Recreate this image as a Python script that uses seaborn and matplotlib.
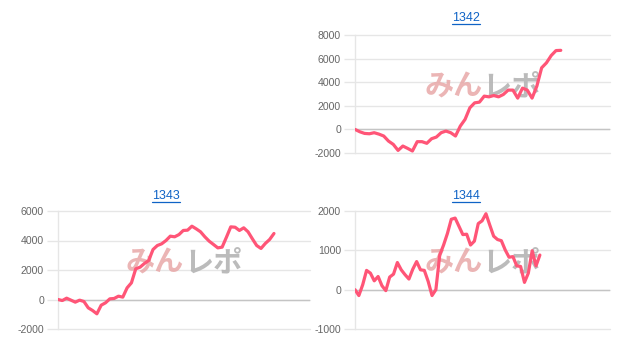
import matplotlib
matplotlib.use("Agg")
import matplotlib.pyplot as plt
from matplotlib.lines import Line2D
import numpy as np
import pandas as pd
import seaborn as sns

# ---- data ----
names = ["1342", "1343", "1344"]

vals_1342 = [0, -200, -340, -370, -280, -400, -560, -990, -1270, -1780, -1410,
             -1610, -1830, -1040, -1040, -1180, -790, -650, -280, -140, -280,
             -560, 280, 850, 1830, 2250, 2310, 2820, 2760, 2870, 2760, 2960,
             3330, 3330, 2650, 3500, 3330, 2650, 3670, 5220, 5640, 6260, 6680, 6700]

vals_1343 = [0, -70, 90, -45, -180, -45, -135, -565, -745, -970, -385, -225, 45,
             70, 225, 160, 790, 1130, 2080, 2190, 2440, 2645, 3390, 3660, 3775,
             4000, 4295, 4250, 4400, 4680, 4700, 4970, 4790, 4590, 4250, 3955,
             3730, 3500, 3550, 4225, 4925, 4900, 4680, 4860, 4590, 4115, 3660,
             3460, 3800, 4070, 4475]

vals_1344 = [0, -150, 125, 490, 420, 225, 335, 100, -25, 320, 395, 690, 505, 380,
             270, 520, 715, 505, 490, 210, -150, 0, 880, 1135, 1430, 1790, 1820,
             1610, 1400, 1410, 1135, 1235, 1680, 1750, 1930, 1640, 1360, 1275,
             1245, 1010, 825, 840, 605, 590, 185, 420, 990, 605, 880]

yticks_1342 = [-2000, 0, 2000, 4000, 6000, 8000]
yticks_1343 = [-2000, 0, 2000, 4000, 6000]
yticks_1344 = [-1000, 0, 1000, 2000]

watermark_left = "みん"
watermark_right = "レポ"

# ---- style ----
sns.set_theme(style="white")
plt.rcParams["font.family"] = ["Liberation Sans", "DejaVu Sans"]
plt.rcParams["axes.unicode_minus"] = False

W, H = 621, 350
fig = plt.figure(figsize=(W / 100, H / 100), dpi=100)

LINE = "#ff5577"
GRID = "#e6e6e6"
ZERO = "#c4c4c4"
TICKC = "#666666"
LINK = "#0f63c6"

panels = [
    dict(name=names[0], vals=vals_1342, ticks=yticks_1342, box=(355, 35, 610, 153),
         span=0.807, title=(466, 18)),
    dict(name=names[1], vals=vals_1343, ticks=yticks_1343, box=(58, 211, 310, 329),
         span=0.857, title=(166, 196)),
    dict(name=names[2], vals=vals_1344, ticks=yticks_1344, box=(355, 211, 610, 329),
         span=0.725, title=(466, 196)),
]

titles = []
for p in panels:
    x0, y0, x1, y1 = p["box"]
    ax = fig.add_axes([x0 / W, 1 - y1 / H, (x1 - x0) / W, (y1 - y0) / H])
    df = pd.DataFrame({"n": np.arange(len(p["vals"])), "v": p["vals"]})
    sns.lineplot(data=df, x="n", y="v", ax=ax, color=LINE, linewidth=2.3,
                 zorder=5, solid_joinstyle="round", solid_capstyle="round")
    ax.set_xlim(0, (len(p["vals"]) - 1) / p["span"])
    ax.set_ylim(p["ticks"][0], p["ticks"][-1])
    ax.set_yticks(p["ticks"])
    ax.set_yticklabels([str(t) for t in p["ticks"]])
    ax.set_xticks([])
    ax.set_xlabel("")
    ax.set_ylabel("")
    ax.grid(axis="y", color=GRID, linewidth=1, zorder=0)
    for gl in ax.get_ygridlines():
        gl.set_clip_on(False)
    ax.axhline(0, color=ZERO, linewidth=1, zorder=1)
    for s in ["top", "right", "bottom"]:
        ax.spines[s].set_visible(False)
    ax.spines["left"].set_color(GRID)
    ax.spines["left"].set_linewidth(1)
    ax.tick_params(axis="y", length=8, width=1, color=GRID, labelcolor=TICKC,
                   labelsize=7.6, pad=2, left=True)
    ax.set_facecolor("none")
    for sp in ax.spines.values():
        sp.set_zorder(0)
    # watermark
    ax.text(0.5, 0.56, watermark_left, transform=ax.transAxes, ha="right", va="center",
            fontsize=21, fontweight="bold", family=["Noto Sans CJK JP", "DejaVu Sans"],
            color="#e8a8a8", alpha=0.85, zorder=2)
    ax.text(0.5, 0.56, watermark_right, transform=ax.transAxes, ha="left", va="center",
            fontsize=21, fontweight="bold", family=["Noto Sans CJK JP", "DejaVu Sans"],
            color="#b4b4b4", alpha=0.9, zorder=2)
    tx, ty = p["title"]
    t = fig.text(tx / W, 1 - ty / H, p["name"], ha="center", va="center",
                 color=LINK, fontsize=9)
    titles.append(t)

fig.canvas.draw()
r = fig.canvas.get_renderer()
for t in titles:
    bb = t.get_window_extent(renderer=r)
    yline = (bb.y0 + 0.5) / H
    fig.add_artist(Line2D([bb.x0 / W, bb.x1 / W], [yline, yline],
                          transform=fig.transFigure, color=LINK, linewidth=0.9))

fig.savefig("out.png", dpi=100)
